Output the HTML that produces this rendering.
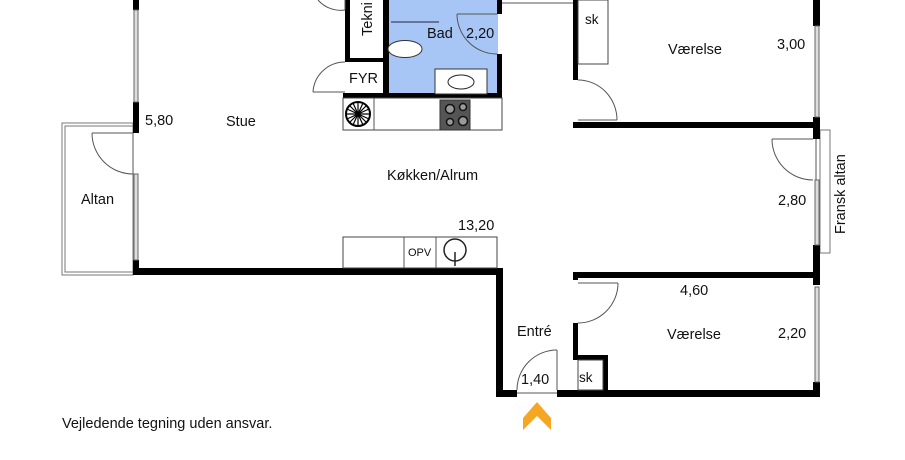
<!DOCTYPE html>
<html><head><style>
html,body{margin:0;padding:0;background:#fff;width:905px;height:460px;overflow:hidden}
svg text{font-family:"Liberation Sans",sans-serif;fill:#111}
</style></head><body>
<svg width="905" height="460" viewBox="0 0 905 460" xmlns="http://www.w3.org/2000/svg">
<rect x="388" y="0" width="110" height="94" fill="#a8c6f5"/>
<rect x="62" y="123" width="71" height="152" fill="none" stroke="#777" stroke-width="1"/>
<rect x="65" y="126" width="68" height="146" fill="none" stroke="#777" stroke-width="1"/>
<rect x="820" y="130" width="10" height="123" fill="none" stroke="#777" stroke-width="1"/>
<g fill="#000">
<rect x="133" y="0" width="6" height="10"/>
<rect x="133" y="102" width="6" height="31"/>
<rect x="133" y="260" width="6" height="15"/>
<rect x="133" y="268" width="370" height="7"/>
<rect x="496" y="268" width="7" height="129"/>
<rect x="496" y="390" width="21" height="7"/>
<rect x="557" y="390" width="263" height="7"/>
<rect x="345" y="0" width="5" height="62"/>
<rect x="345" y="58" width="43" height="4"/>
<rect x="383" y="0" width="6" height="98"/>
<rect x="343" y="93" width="159" height="5"/>
<rect x="497" y="0" width="5" height="14"/>
<rect x="497" y="54" width="5" height="44"/>
<rect x="573" y="0" width="5" height="80"/>
<rect x="573" y="122" width="247" height="6"/>
<rect x="573" y="272" width="247" height="6"/>
<rect x="573" y="272" width="5" height="8"/>
<rect x="573" y="323" width="5" height="35"/>
<rect x="573" y="355" width="35" height="5"/>
<rect x="603" y="355" width="5" height="40"/>
<rect x="813" y="0" width="7" height="26"/>
<rect x="813" y="117" width="7" height="22"/>
<rect x="813" y="245" width="7" height="40"/>
<rect x="813" y="382" width="7" height="15"/>
</g>
<g fill="#ddd" stroke="#666" stroke-width="1">
<rect x="134" y="10" width="4" height="92"/>
<rect x="134" y="174" width="4" height="86"/>
<rect x="815" y="26" width="4" height="91"/>
<rect x="815" y="180" width="4" height="65"/>
<rect x="815" y="287" width="4" height="95"/>
</g>
<g fill="none" stroke="#555" stroke-width="1">
<line x1="133" y1="133" x2="133" y2="174"/>
<line x1="92" y1="133" x2="133" y2="133"/>
<path d="M92 133 A41 41 0 0 0 133 174"/>
<line x1="816" y1="139" x2="816" y2="180"/>
<line x1="772" y1="139" x2="813" y2="139"/>
<path d="M772 139 A41 41 0 0 0 813 180"/>
<path d="M318 0 A30 30 0 0 0 345 10"/>
<line x1="345" y1="0" x2="345" y2="10"/>
<path d="M313 92 A32 32 0 0 1 345 62"/>
<line x1="313" y1="92" x2="345" y2="92"/>
<line x1="457" y1="14" x2="497" y2="14"/>
<path d="M457 14 A40 40 0 0 0 497 54"/>
<line x1="391" y1="22" x2="439" y2="22" stroke="#224"/>
<ellipse cx="405" cy="49" rx="17" ry="8.5" fill="#fff" stroke="#333"/>
<rect x="435" y="69" width="52" height="25" fill="#fff" stroke="#333"/>
<ellipse cx="461" cy="82" rx="13" ry="7" fill="#fff" stroke="#222"/>
<rect x="343" y="98" width="159" height="32" fill="#fff" stroke="#444"/>
<line x1="374" y1="98" x2="374" y2="130"/>
<rect x="440" y="100" width="30" height="30" fill="#555" stroke="#333"/>
<rect x="578" y="0" width="30" height="64" stroke="#444"/>
<line x1="502" y1="3" x2="573" y2="3"/>
<rect x="578" y="360" width="25" height="30" stroke="#444"/>
<line x1="578" y1="120" x2="617" y2="120"/>
<path d="M578 80 A39 40 0 0 1 617 120"/>
<line x1="578" y1="283" x2="618" y2="283"/>
<path d="M618 283 A40 40 0 0 1 578 323"/>
<line x1="557" y1="350" x2="557" y2="390"/>
<path d="M557 350 A40 40 0 0 0 517 390"/>
<line x1="517" y1="393" x2="557" y2="393"/>
<rect x="343" y="237" width="154" height="31" stroke="#444"/>
<line x1="404" y1="237" x2="404" y2="268"/>
<line x1="436" y1="237" x2="436" y2="268"/>
<circle cx="455" cy="250" r="11" stroke="#222" stroke-width="1.5"/>
<line x1="455" y1="252" x2="455" y2="266" stroke="#222" stroke-width="1.5"/>
</g>
<circle cx="358" cy="114" r="12" fill="#fff" stroke="#000" stroke-width="2"/>
<g stroke="#000" stroke-width="1.2">
<line x1="346" y1="114" x2="370" y2="114"/><line x1="358" y1="102" x2="358" y2="126"/>
<line x1="350" y1="106" x2="366" y2="122"/><line x1="366" y1="106" x2="350" y2="122"/>
<line x1="347" y1="109" x2="369" y2="119"/><line x1="347" y1="119" x2="369" y2="109"/>
<line x1="353" y1="103" x2="363" y2="125"/><line x1="363" y1="103" x2="353" y2="125"/>
</g>
<g fill="#999" stroke="#111" stroke-width="1.5">
<circle cx="450" cy="109" r="4.5"/><circle cx="463" cy="107" r="3.5"/>
<circle cx="450" cy="122" r="3.5"/><circle cx="463" cy="121" r="4.5"/>
</g>
<polygon points="523,430 537,416 551,430 551,418 537,402 523,418" fill="#f5a623"/>
<g font-size="14.5">
<text x="145" y="125">5,80</text>
<text x="226" y="126">Stue</text>
<text x="81" y="204">Altan</text>
<text x="387" y="180">Køkken/Alrum</text>
<text x="458" y="230">13,20</text>
<text x="517" y="336">Entré</text>
<text x="521" y="384">1,40</text>
<text x="668" y="54">Værelse</text>
<text x="777" y="49">3,00</text>
<text x="778" y="205">2,80</text>
<text x="680" y="295">4,60</text>
<text x="667" y="339">Værelse</text>
<text x="778" y="338">2,20</text>
<text x="427" y="38">Bad</text>
<text x="466" y="38">2,20</text>
<text x="349" y="83">FYR</text>
<text x="585" y="24" font-size="13.5">sk</text>
<text x="579" y="382" font-size="13.5">sk</text>
<text transform="translate(372,36) rotate(-90)">Tekni</text>
<text transform="translate(845,234) rotate(-90)">Fransk altan</text>
<text x="408" y="256" font-size="11">OPV</text>
<text x="62" y="428">Vejledende tegning uden ansvar.</text>
</g>
</svg>
</body></html>
